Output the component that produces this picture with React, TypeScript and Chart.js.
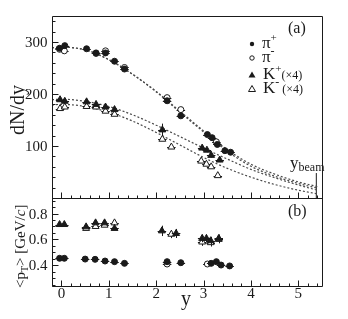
import React, { useEffect, useRef } from 'react';
import { Chart, registerables } from 'chart.js';
Chart.register(...registerables);

const SERIF = '"Liberation Serif", "DejaVu Serif", serif';
const INK = '#1a1a1a';

// ---- panel (a): dN/dy ----
const piPlusX = [-0.04, 0.07, 0.53, 0.73, 0.93, 1.12, 1.33, 2.23, 2.52, 3.08, 3.18, 3.29, 3.45, 3.57];
const piPlusN = [288, 293, 287, 279, 279, 263, 248, 187, 158, 122, 116, 103, 91, 88];
const piMinusX = [-0.04, 0.06, 0.73, 0.93, 1.33, 2.23, 2.52, 3.27];
const piMinusN = [286, 283, 278, 283, 251, 193, 170, 108];
const kPlusX = [-0.03, 0.07, 0.53, 0.73, 0.93, 1.12, 2.13, 2.97, 3.07, 3.16, 3.34];
const kPlusN = [189, 186, 185, 180, 175, 170, 131, 96, 92, 82, 73];
const kPlusNErr = [0, 0, 0, 0, 0, 0, 12, 4, 4, 4, 4];
const kMinusX = [-0.03, 0.07, 0.53, 0.73, 0.93, 1.12, 2.13, 2.32, 2.95, 3.06, 3.16, 3.3];
const kMinusN = [172, 175, 176, 175, 167, 161, 113, 98, 71, 65, 60, 43];

// fit curves
const fitX = [-0.2, 0, 0.5, 1, 1.5, 2, 2.5, 3, 3.5, 4, 4.5, 5, 5.4];
const piPlusFit = [289, 290, 285, 266, 238, 204, 165, 127, 90, 61, 42, 28, 19];
const piMinusFit = [289, 290, 285, 266, 238, 205, 167, 129, 93, 65, 46, 31, 22];
const kPlusFit = [189, 190, 186, 176, 160, 140, 118, 96, 75, 55, 39, 25, 15];
const kMinusFit = [179, 180, 176, 165, 148, 126, 102, 78, 57, 40, 26, 15, 8];

const yBeam = 5.38;
const yBeamTop = 48;

// ---- panel (b): <pT> ----
const piPlusPtX = [-0.04, 0.06, 0.5, 0.71, 0.92, 1.12, 1.33, 2.23, 2.52, 3.16, 3.27, 3.37, 3.55];
const piPlusPt = [0.454, 0.454, 0.448, 0.446, 0.433, 0.428, 0.415, 0.428, 0.42, 0.415, 0.428, 0.402, 0.395];
const piMinusPtX = [2.23, 3.08];
const piMinusPt = [0.41, 0.41];
const kPlusPtX = [-0.04, 0.06, 0.52, 0.72, 0.91, 1.12, 2.12, 2.42, 2.97, 3.06, 3.15, 3.32];
const kPlusPt = [0.715, 0.715, 0.697, 0.728, 0.728, 0.685, 0.666, 0.646, 0.608, 0.608, 0.59, 0.608];
const kPlusPtErr = [0, 0, 0, 0, 0, 0, 0.04, 0.035, 0.03, 0.03, 0.03, 0.03];
const kMinusPtX = [0.52, 0.72, 0.91, 1.12, 2.32, 2.97, 3.15, 3.32];
const kMinusPt = [0.685, 0.7, 0.71, 0.728, 0.64, 0.58, 0.575, 0.6];
const kMinusPtErr = [0, 0, 0, 0, 0.03, 0.03, 0.03, 0.03];

// axis ranges and tick labels
const X_MIN = -0.2, X_MAX = 5.5;
const xTickLabels = [0, 1, 2, 3, 4, 5];
const N_MIN = 0, N_MAX = 350;
const nTickLabels = [100, 200, 300];
const PT_MIN = 0.24, PT_MAX = 0.92;
const ptTickLabels = [0.4, 0.6, 0.8];
// panel heights (a):(b)
const W_TOP = 182, W_BOT = 88;

const X_HALF = 0.09;

const pts = (xs: number[], ys: number[]) => xs.map((x, i) => ({ x, y: ys[i] }));

function marker(label: string, xs: number[], ys: number[], axis: string, style: string, filled: boolean, yErr?: number[]) {
  return {
    type: 'scatter' as const,
    label,
    data: pts(xs, ys),
    yAxisID: axis,
    pointStyle: style,
    pointRadius: style === 'triangle' ? 4 : 3,
    pointBackgroundColor: filled ? INK : '#ffffff',
    pointBorderColor: INK,
    pointBorderWidth: 1,
    showLine: false,
    xHalf: X_HALF,
    yErr,
    order: 1,
  };
}

function curve(label: string, ys: number[]) {
  return {
    type: 'line' as const,
    label,
    data: pts(fitX, ys),
    yAxisID: 'yTop',
    borderColor: '#4a4a4a',
    borderWidth: 1.2,
    borderDash: [2, 2],
    pointRadius: 0,
    cubicInterpolationMode: 'monotone' as const,
    fill: false,
    order: 2,
  };
}

function drawRich(ctx: CanvasRenderingContext2D, parts: { t: string; size: number; dy?: number; italic?: boolean }[], x: number, y: number) {
  let cx = x;
  for (const p of parts) {
    ctx.font = `${p.italic ? 'italic ' : ''}${p.size}px ${SERIF}`;
    ctx.fillText(p.t, cx, y + (p.dy || 0));
    cx += ctx.measureText(p.t).width;
  }
}

const errPlugin = {
  id: 'errbars',
  beforeDatasetDraw(chart: any, args: any) {
    const ds = chart.data.datasets[args.index];
    if (!ds.xHalf) return;
    const xs = chart.scales.x;
    const ys = chart.scales[ds.yAxisID];
    const ctx = chart.ctx as CanvasRenderingContext2D;
    ctx.save();
    ctx.strokeStyle = INK;
    ctx.lineWidth = 1;
    ds.data.forEach((p: any, i: number) => {
      const py = Math.round(ys.getPixelForValue(p.y)) + 0.5;
      const px = Math.round(xs.getPixelForValue(p.x)) + 0.5;
      ctx.beginPath();
      ctx.moveTo(xs.getPixelForValue(p.x - ds.xHalf), py);
      ctx.lineTo(xs.getPixelForValue(p.x + ds.xHalf), py);
      const e = ds.yErr ? ds.yErr[i] : 0;
      if (e) {
        ctx.moveTo(px, ys.getPixelForValue(p.y - e));
        ctx.lineTo(px, ys.getPixelForValue(p.y + e));
      }
      ctx.stroke();
    });
    ctx.restore();
  },
};

const framePlugin = {
  id: 'frame',
  afterDraw(chart: any) {
    const ctx = chart.ctx as CanvasRenderingContext2D;
    const xs = chart.scales.x;
    const yt = chart.scales.yTop;
    const yb = chart.scales.yBot;
    const px = (v: number) => Math.round(xs.getPixelForValue(v)) + 0.5;
    const L = px(X_MIN);
    const R = px(X_MAX);
    const tT = Math.round(yt.getPixelForValue(N_MAX)) + 0.5;
    const tB = Math.round(yt.getPixelForValue(N_MIN)) + 0.5;
    const bB = Math.round(yb.getPixelForValue(PT_MIN)) + 0.5;
    ctx.save();
    ctx.strokeStyle = INK;
    ctx.lineWidth = 1;
    ctx.beginPath();
    ctx.moveTo(L, tT); ctx.lineTo(R, tT); ctx.lineTo(R, bB); ctx.lineTo(L, bB); ctx.closePath();
    ctx.moveTo(L, tB); ctx.lineTo(R, tB);
    // x ticks (bottom axis and the shared border)
    for (let i = -1; i <= 27; i++) {
      const v = i * 0.2;
      if (v < X_MIN - 1e-9 || v > X_MAX + 1e-9) continue;
      const x = px(v);
      const len = i % 5 === 0 ? 6 : 3;
      ctx.moveTo(x, bB); ctx.lineTo(x, bB - len);
      ctx.moveTo(x, tB); ctx.lineTo(x, tB - len);
    }
    // left ticks top panel
    for (let v = 20; v < N_MAX; v += 20) {
      const y = Math.round(yt.getPixelForValue(v)) + 0.5;
      const len = v % 100 === 0 ? 6 : 3;
      ctx.moveTo(L, y); ctx.lineTo(L + len, y);
    }
    // left ticks bottom panel
    for (let k = 5; k <= 18; k++) {
      const v = k * 0.05;
      if (v <= PT_MIN || v >= PT_MAX) continue;
      const y = Math.round(yb.getPixelForValue(v)) + 0.5;
      const len = k % 4 === 0 ? 6 : 3;
      ctx.moveTo(L, y); ctx.lineTo(L + len, y);
    }
    ctx.stroke();

    ctx.fillStyle = INK;
    ctx.textBaseline = 'alphabetic';

    // tick labels
    ctx.font = `15px ${SERIF}`;
    ctx.textAlign = 'center';
    for (const v of xTickLabels) ctx.fillText(String(v), xs.getPixelForValue(v), bB + 11);
    ctx.textAlign = 'right';
    for (const v of nTickLabels) ctx.fillText(String(v), L - 5, yt.getPixelForValue(v) + 5);
    for (const v of ptTickLabels) ctx.fillText(v.toFixed(1), L - 5, yb.getPixelForValue(v) + 5);

    // y_beam label
    ctx.textAlign = 'left';
    drawRich(ctx, [{ t: 'y', size: 17 }, { t: 'beam', size: 12, dy: 3 }], 290, 168);

    // panel labels
    ctx.font = `16px ${SERIF}`;
    ctx.fillText('(a)', 288, 33);
    ctx.fillText('(b)', 288, 216);

    // legend
    const lx = 252;
    const rows = [48, 62, 79, 93];
    ctx.beginPath(); ctx.arc(lx, 44, 2.2, 0, Math.PI * 2); ctx.fill();
    ctx.beginPath(); ctx.arc(lx, 58, 2.2, 0, Math.PI * 2); ctx.stroke();
    const tri = (cy: number, fill: boolean) => {
      ctx.beginPath();
      ctx.moveTo(lx, cy - 3.5);
      ctx.lineTo(lx + 3.5, cy + 2.5);
      ctx.lineTo(lx - 3.5, cy + 2.5);
      ctx.closePath();
      if (fill) ctx.fill(); else ctx.stroke();
    };
    tri(75, true);
    tri(89, false);
    drawRich(ctx, [{ t: 'π', size: 17 }, { t: '+', size: 11, dy: -7 }], 262, rows[0]);
    drawRich(ctx, [{ t: 'π', size: 17 }, { t: '-', size: 12, dy: -7 }], 262, rows[1]);
    drawRich(ctx, [{ t: 'K', size: 17 }, { t: '+', size: 11, dy: -7 }, { t: '(×4)', size: 12 }], 263, rows[2]);
    drawRich(ctx, [{ t: 'K', size: 17 }, { t: '-', size: 12, dy: -7 }, { t: ' (×4)', size: 12 }], 263, rows[3]);

    // axis titles
    ctx.font = `20px ${SERIF}`;
    ctx.textAlign = 'center';
    ctx.fillText('y', 186, 305);

    ctx.save();
    ctx.translate(24, 110);
    ctx.rotate(-Math.PI / 2);
    ctx.font = `20px ${SERIF}`;
    ctx.textAlign = 'center';
    ctx.fillText('dN/dy', 0, 0);
    ctx.restore();

    ctx.save();
    ctx.translate(25, 288);
    ctx.rotate(-Math.PI / 2);
    ctx.textAlign = 'left';
    drawRich(ctx, [
      { t: '<p', size: 15 },
      { t: 'T', size: 10, dy: 3 },
      { t: '> [GeV/', size: 15 },
      { t: 'c', size: 15, italic: true },
      { t: ']', size: 15 },
    ], 0, 0);
    ctx.restore();
    ctx.restore();
  },
};

export default function App() {
  const ref = useRef<HTMLCanvasElement>(null);
  useEffect(() => {
    if (!ref.current) return;
    // each panel's scale spans the full plot height; its range is extended so that
    // its own data lands in its own panel
    const topMin = N_MIN - (N_MAX - N_MIN) * W_BOT / W_TOP;
    const botMax = PT_MAX + (PT_MAX - PT_MIN) * W_TOP / W_BOT;
    const chart = new Chart(ref.current, {
      type: 'scatter',
      data: {
        datasets: [
          curve('pi+ fit', piPlusFit),
          curve('pi- fit', piMinusFit),
          curve('K+ fit', kPlusFit),
          curve('K- fit', kMinusFit),
          {
            type: 'line',
            label: 'ybeam',
            data: [{ x: yBeam, y: 0 }, { x: yBeam, y: yBeamTop }],
            yAxisID: 'yTop',
            borderColor: INK,
            borderWidth: 1,
            pointRadius: 0,
            order: 2,
          } as any,
          marker('pi+', piPlusX, piPlusN, 'yTop', 'circle', true),
          marker('pi-', piMinusX, piMinusN, 'yTop', 'circle', false),
          marker('K+', kPlusX, kPlusN, 'yTop', 'triangle', true, kPlusNErr),
          marker('K-', kMinusX, kMinusN, 'yTop', 'triangle', false),
          marker('pi+ pT', piPlusPtX, piPlusPt, 'yBot', 'circle', true),
          marker('pi- pT', piMinusPtX, piMinusPt, 'yBot', 'circle', false),
          marker('K+ pT', kPlusPtX, kPlusPt, 'yBot', 'triangle', true, kPlusPtErr),
          marker('K- pT', kMinusPtX, kMinusPt, 'yBot', 'triangle', false, kMinusPtErr),
        ] as any,
      },
      options: {
        animation: false,
        responsive: false,
        devicePixelRatio: 1,
        layout: { padding: { left: 52, right: 26, top: 16, bottom: 33 } },
        plugins: { legend: { display: false }, tooltip: { enabled: false } },
        scales: {
          x: { type: 'linear', display: false, min: X_MIN, max: X_MAX },
          yTop: { type: 'linear', display: false, position: 'left', min: topMin, max: N_MAX },
          yBot: { type: 'linear', display: false, position: 'left', min: PT_MIN, max: botMax },
        } as any,
      },
      plugins: [errPlugin, framePlugin],
    });
    return () => chart.destroy();
  }, []);
  return (
    <div style={{ position: 'absolute', left: 0, top: 0, width: 348, height: 319, background: '#fff' }}>
      <canvas ref={ref} width={348} height={319} style={{ display: 'block' }} />
    </div>
  );
}
